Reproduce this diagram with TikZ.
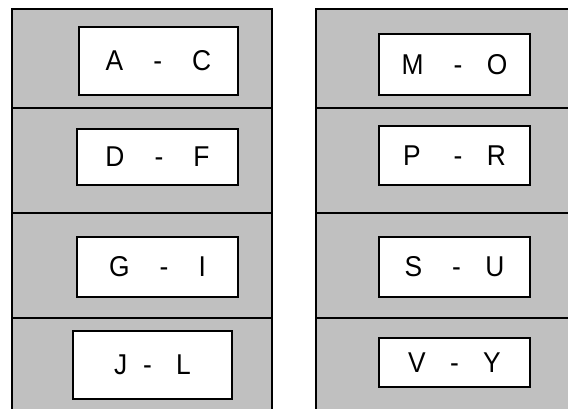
\documentclass[tikz,border=0pt]{standalone}
\usepackage{fontspec}
\setmainfont{Liberation Sans}[FakeStretch=0.92]
\usepackage{xcolor}
\usepackage{tikz}
\usetikzlibrary{positioning}
\definecolor{shelf}{HTML}{C0C0C0}

\begin{document}
\begin{tikzpicture}[
  x=0.75pt, y=-0.75pt,
  edge/.style={line width=1.5pt, black},
  tag/.style={draw, line width=1.5pt, fill=white, inner sep=0pt,
    font=\fontsize{21.5}{25}\selectfont}
]
\useasboundingbox (0,0) rectangle (568,409);
% the two gray columns
\fill[shelf] (12,9) rectangle (272,409);
\fill[shelf] (316,9) rectangle (568,409);
\draw[edge] (12,409) -- (12,9) -- (272,9) -- (272,409);
\draw[edge] (316,409) -- (316,9) -- (568,9);
\foreach \y in {108,213,318} {
  \draw[edge] (12,\y) -- (272,\y);
  \draw[edge] (316,\y) -- (568,\y);
}
% left column
\node[tag, minimum width=119.25pt, minimum height=51pt] (ac) at (158.5,61) {A\hspace{1.05em}-\hspace{1.05em}C};
\node[tag, minimum width=120.75pt, minimum height=42pt] (df) at (157.5,157) {D\hspace{1.05em}-\hspace{1.05em}F};
\node[tag, minimum width=120.75pt, minimum height=45pt] (gi) at (157.5,267) {G\hspace{1.05em}-\hspace{1.05em}I};
\node[tag, minimum width=119.25pt, minimum height=51pt] (jl) at (152.5,365) {J\hspace{0.55em}-\hspace{0.85em}L};
% right column
\node[tag, minimum width=113.25pt, minimum height=45.75pt] (mo) at (454.5,64.5) {M\hspace{1.05em}-\hspace{0.85em}O};
\node[tag, minimum width=113.25pt, minimum height=44.25pt] (pr) at (454.5,155.5) {P\hspace{1.15em}-\hspace{0.85em}R};
\node[tag, minimum width=113.25pt, minimum height=45pt] (su) at (454.5,267) {S\hspace{1.05em}-\hspace{0.85em}U};
\node[tag, minimum width=113.25pt, minimum height=36.75pt] (vy) at (454.5,362.5) {V\hspace{0.85em}-\hspace{0.85em}Y};
\end{tikzpicture}
\end{document}
